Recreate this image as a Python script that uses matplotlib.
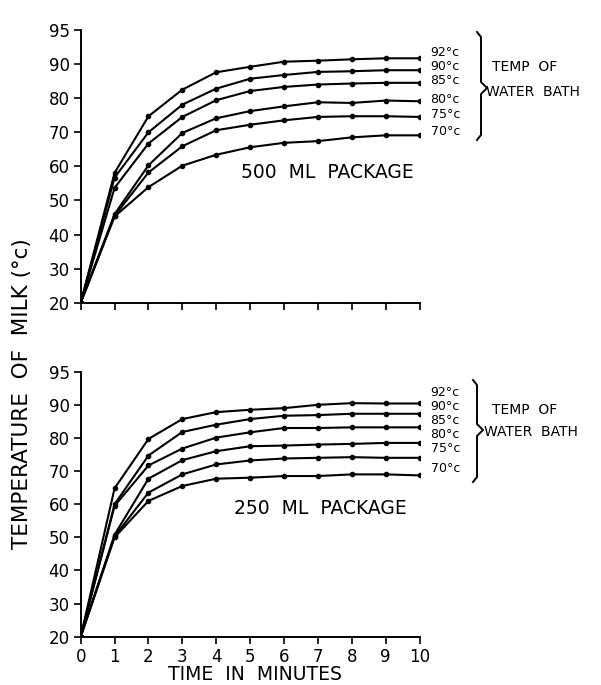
import matplotlib
matplotlib.use("Agg")
import matplotlib.pyplot as plt
from matplotlib.lines import Line2D

# ---------------- data ----------------
time_min = [0, 1, 2, 3, 4, 5, 6, 7, 8, 9, 10]
bath_labels = ["92°c", "90°c", "85°c", "80°c", "75°c", "70°c"]

# 500 ML package
pkg500_92 = [20, 58.1, 74.7, 82.5, 87.6, 89.2, 90.7, 91.0, 91.4, 91.7, 91.7]
pkg500_90 = [20, 56.7, 70.0, 78.1, 82.8, 85.7, 86.8, 87.7, 87.9, 88.2, 88.2]
pkg500_85 = [20, 53.7, 66.7, 74.5, 79.4, 82.1, 83.3, 84.0, 84.3, 84.5, 84.5]
pkg500_80 = [20, 46.0, 60.3, 69.8, 74.1, 76.2, 77.6, 78.8, 78.6, 79.3, 79.1]
pkg500_75 = [20, 45.5, 58.2, 65.9, 70.6, 72.2, 73.5, 74.5, 74.7, 74.7, 74.5]
pkg500_70 = [20, 45.3, 53.9, 60.2, 63.4, 65.6, 66.9, 67.4, 68.5, 69.1, 69.1]

# 250 ML package
pkg250_92 = [20, 64.8, 79.7, 85.7, 87.8, 88.5, 89.0, 90.0, 90.5, 90.4, 90.4]
pkg250_90 = [20, 60.0, 74.7, 81.8, 84.0, 85.7, 86.7, 86.9, 87.3, 87.3, 87.3]
pkg250_85 = [20, 59.5, 71.7, 76.8, 80.1, 81.7, 83.0, 83.0, 83.2, 83.2, 83.2]
pkg250_80 = [20, 50.8, 67.7, 73.3, 76.0, 77.5, 77.7, 78.0, 78.2, 78.5, 78.5]
pkg250_75 = [20, 50.3, 63.5, 69.0, 72.0, 73.2, 73.8, 74.0, 74.2, 74.0, 74.0]
pkg250_70 = [20, 50.0, 61.0, 65.5, 67.7, 68.0, 68.5, 68.5, 69.0, 69.0, 68.7]

x_ticks = [0, 1, 2, 3, 4, 5, 6, 7, 8, 9, 10]
x_tick_labels = ["0", "1", "2", "3", "4", "5", "6", "7", "8", "9", "10"]
# the top tick of the original axis is labelled "95" although it sits one full step above 90
y_ticks = [20, 30, 40, 50, 60, 70, 80, 90, 100]
y_tick_labels = ["20", "30", "40", "50", "60", "70", "80", "90", "95"]

# ---------------- figure ----------------
W, H = 601, 685
fig = plt.figure(figsize=(W / 100, H / 100), dpi=100)
plt.rcParams['font.family'] = ['DejaVu Sans']


def fx(x):
    return x / W


def fy(y):
    return 1 - y / H


def panel(rect, series, title, title_xy, show_xlabels, label_dy):
    ax = fig.add_axes(rect)
    for s in series:
        ax.plot(time_min, s, color="black", lw=1.5, marker="o", ms=3.0,
                solid_joinstyle="round")
    ax.set_xlim(0, 10)
    ax.set_ylim(20, 100)
    ax.spines["top"].set_visible(False)
    ax.spines["right"].set_visible(False)
    ax.spines["left"].set_linewidth(1.4)
    ax.spines["bottom"].set_linewidth(1.4)
    ax.set_yticks(y_ticks)
    ax.set_yticklabels(y_tick_labels, fontsize=12)
    ax.set_xticks(x_ticks)
    if show_xlabels:
        ax.set_xticklabels(x_tick_labels, fontsize=12)
    else:
        ax.set_xticklabels([])
    ax.tick_params(axis="both", direction="out", length=5, width=1.2, pad=3)
    # end labels (offsets in points keep the stacked labels apart)
    for s, lab, dy in zip(series, bath_labels, label_dy):
        ax.annotate(lab, xy=(10, s[-1]), xytext=(8, dy), textcoords="offset points",
                    fontsize=9, va="center", ha="left", annotation_clip=False)
    fig.text(fx(title_xy[0]), fy(title_xy[1]), title, fontsize=13.5,
             ha="center", va="center")
    return ax


ax1 = panel([fx(80.7), fy(302.7), fx(419.5) - fx(80.7), fy(30) - fy(302.7)],
            [pkg500_92, pkg500_90, pkg500_85, pkg500_80, pkg500_75, pkg500_70],
            "500  ML  PACKAGE", (327, 172), False,
            [4.5, 3, 1.5, 1.5, 1.5, 3])
ax2 = panel([fx(80.7), fy(636.7), fx(419.5) - fx(80.7), fy(371.7) - fy(636.7)],
            [pkg250_92, pkg250_90, pkg250_85, pkg250_80, pkg250_75, pkg250_70],
            "250  ML  PACKAGE", (320, 508), True,
            [8, 5, 5, 6, 6.5, 5])


def brace(x, top, mid, bot):
    pts = [(x - 4, top), (x, top + 5), (x, mid - 6), (x + 6, mid),
           (x, mid + 6), (x, bot - 5), (x - 4, bot)]
    fig.add_artist(Line2D([fx(p[0]) for p in pts], [fy(p[1]) for p in pts],
                          transform=fig.transFigure, color="black", lw=1.4))


brace(481, 32, 88, 140)
fig.text(fx(492), fy(67), "TEMP  OF", fontsize=10, ha="left", va="center")
fig.text(fx(486), fy(92), "WATER  BATH", fontsize=10, ha="left", va="center")

brace(477, 380, 430, 482)
fig.text(fx(492), fy(410), "TEMP  OF", fontsize=10, ha="left", va="center")
fig.text(fx(484), fy(432), "WATER  BATH", fontsize=10, ha="left", va="center")

fig.text(fx(22), fy(394), "TEMPERATURE  OF  MILK (°c)", rotation=90,
         fontsize=15.5, ha="center", va="center")
fig.text(fx(255), fy(675), "TIME  IN  MINUTES", fontsize=13.5, ha="center", va="center")

fig.savefig("out.png", dpi=100)
